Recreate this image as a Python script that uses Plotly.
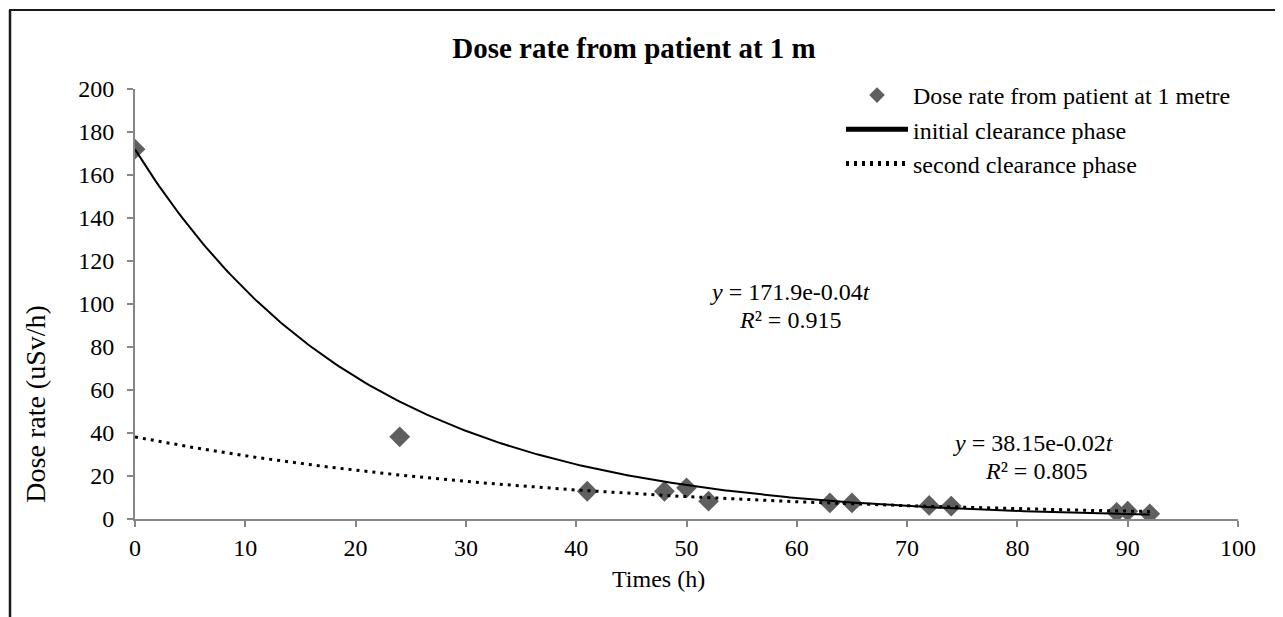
import numpy as np
import plotly.graph_objects as go

# ---- data ----
times_h = [0, 24, 41, 48, 50, 52, 63, 65, 72, 74, 89, 90, 92]
dose_rate = [172, 38.2, 12.9, 12.9, 14.5, 8.3, 7.5, 7.5, 6.3, 6.0, 3.1, 3.6, 2.4]

# exponential trendlines (y = a * exp(-k t))
initial_a, initial_k = 171.9, 0.0478
second_a, second_k = 38.15, 0.026
fit_t_start, fit_t_end = 0, 92

x_ticks = list(range(0, 101, 10))
y_ticks = list(range(0, 201, 20))

title_text = "Dose rate from patient at 1 m"
x_title = "Times (h)"
y_title = "Dose rate (uSv/h)"
eq1 = ["<i>y</i> = 171.9e-0.04<i>t</i>", "<i>R</i>² = 0.915"]
eq2 = ["<i>y</i> = 38.15e-0.02<i>t</i>", "<i>R</i>² = 0.805"]

FONT = "Liberation Serif, Times New Roman, serif"
AXIS_GRAY = "#868686"
MARKER_GRAY = "#5f5f5f"

t_fit = np.linspace(fit_t_start, fit_t_end, 300)
y_init = initial_a * np.exp(-initial_k * t_fit)
y_second = second_a * np.exp(-second_k * t_fit)

fig = go.Figure()
fig.add_trace(go.Scatter(
    x=times_h, y=dose_rate, mode="markers",
    name="Dose rate from patient at 1 metre",
    marker=dict(symbol="diamond", size=16, color=MARKER_GRAY, line=dict(width=0)),
))
fig.add_trace(go.Scatter(
    x=t_fit, y=y_init, mode="lines", name="initial clearance phase",
    line=dict(color="black", width=2),
))
fig.add_trace(go.Scatter(
    x=t_fit, y=y_second, mode="lines", name="second clearance phase",
    line=dict(color="black", width=3, dash="3px,5px"),
))

W, H = 1283, 617
OFF = 8  # page body offset
L, T = 127, 81
pw, ph = 1103, 430.5
R = W - L - pw
B = H - T - ph

def px_x(sx):
    return (sx - OFF - L) / pw

def px_y(sy):
    return (T + ph - (sy - OFF)) / ph

fig.update_layout(
    width=W, height=H,
    margin=dict(l=L, r=R, t=T, b=B, pad=0, autoexpand=False),
    paper_bgcolor="white", plot_bgcolor="white",
    font=dict(family=FONT, size=24, color="black"),
    title=dict(text="<b>" + title_text + "</b>", x=(634 - OFF) / W, xanchor="center",
               y=1 - (48 - OFF) / H, yanchor="middle", yref="container",
               font=dict(family=FONT, size=29, color="black")),
    showlegend=True,
    legend=dict(x=px_x(841), y=px_y(73), xanchor="left", yanchor="top",
                bgcolor="rgba(0,0,0,0)", font=dict(family=FONT, size=24),
                itemsizing="constant", itemwidth=62, tracegroupgap=0),
    xaxis=dict(range=[0, 100], tickvals=x_ticks, showgrid=False, zeroline=False,
               showline=True, linecolor=AXIS_GRAY, linewidth=2,
               ticks="outside", ticklen=6, tickcolor=AXIS_GRAY, tickwidth=2,
               ticklabelstandoff=0,
               tickfont=dict(family=FONT, size=24, color="black")),
    yaxis=dict(range=[0, 200], tickvals=y_ticks, showgrid=False, zeroline=False,
               showline=True, linecolor=AXIS_GRAY, linewidth=2,
               ticks="outside", ticklen=6, tickcolor=AXIS_GRAY, tickwidth=2,
               ticklabelstandoff=8,
               tickfont=dict(family=FONT, size=24, color="black")),
)

annots = [
    dict(text=x_title, x=px_x(658), y=px_y(580)),
    dict(text=y_title, x=px_x(36), y=px_y(404), textangle=-90, font=dict(size=28)),
    dict(text=eq1[0], x=px_x(790), y=px_y(292)),
    dict(text=eq1[1], x=px_x(790), y=px_y(320)),
    dict(text=eq2[0], x=px_x(1033), y=px_y(443)),
    dict(text=eq2[1], x=px_x(1036), y=px_y(471)),
]
for a in annots:
    base = dict(xref="paper", yref="paper", showarrow=False,
                xanchor="center", yanchor="middle",
                font=dict(family=FONT, size=24, color="black"))
    f = a.pop("font", None)
    base.update(a)
    if f:
        base["font"].update(f)
    fig.add_annotation(**base)

# chart-area border (left and top edges visible)
fig.add_shape(type="line", xref="paper", yref="paper",
              x0=px_x(10), x1=px_x(10), y0=px_y(10), y1=px_y(630),
              line=dict(color="#1a1a1a", width=2.5))
fig.add_shape(type="line", xref="paper", yref="paper",
              x0=px_x(9), x1=px_x(1300), y0=px_y(10), y1=px_y(10),
              line=dict(color="#1a1a1a", width=2))

fig.write_html("out.html")
